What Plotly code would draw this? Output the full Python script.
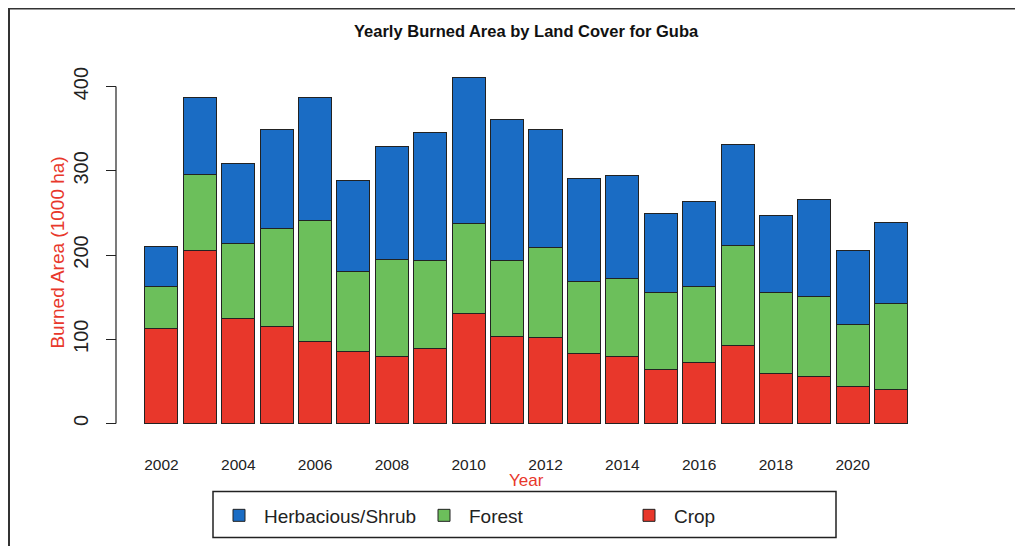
import plotly.graph_objects as go

years = list(range(2002, 2022))
crop = [113, 206, 125, 115, 97, 85, 80, 89, 131, 103, 102, 83, 80, 64, 72, 93, 59, 56, 44, 40]
forest = [50, 90, 89, 116, 144, 95, 115, 105, 106, 91, 107, 86, 92, 92, 91, 118, 96, 95, 74, 102]
shrub = [47, 91, 95, 118, 146, 108, 134, 152, 174, 167, 140, 122, 123, 93, 100, 120, 92, 115, 88, 97]
x_tick_vals = list(range(2002, 2021, 2))
y_tick_vals = [0, 100, 200, 300, 400]

O = 8                     # page offset (body margin)
W, H = 1023 - O, 546 - O
L, R = 116 - O, 918 - O   # paper left/right in px
T, B = 63.4 - O, 437.5 - O
PW, PH = R - L, B - T

def px(x):
    return (x - O - L) / PW

def py(y):
    return (B - (y - O)) / PH

fig = go.Figure()
series = [("Crop", crop, "#e8372b"), ("Forest", forest, "#6cbf5b"), ("Herbacious/Shrub", shrub, "#1a6cc4")]
for name, vals, col in series:
    fig.add_trace(go.Bar(x=years, y=vals, name=name, width=0.86,
                         marker=dict(color=col, line=dict(color="#222222", width=1))))

fig.update_layout(
    width=W, height=H,
    barmode="stack",
    plot_bgcolor="white", paper_bgcolor="white",
    margin=dict(l=L, r=W - R, t=T, b=H - B, pad=0, autoexpand=False),
    font=dict(family="Liberation Sans, Arial, sans-serif", color="#222222"),
    xaxis=dict(domain=[px(134.6), 1], range=[2001.3, 2021.7], tickvals=x_tick_vals,
               showgrid=False, zeroline=False, showline=False, ticks="",
               tickfont=dict(size=15.5), ticklabelstandoff=16),
    yaxis=dict(anchor="free", position=0, range=[-16, 428], tickvals=y_tick_vals,
               showgrid=False, zeroline=False, showline=False, ticks="outside",
               ticklen=10, tickcolor="#222222", tickangle=-90,
               tickfont=dict(size=20), ticklabelstandoff=10),
    showlegend=True,
    legend=dict(orientation="h", traceorder="reversed", x=px(214), y=py(516),
                xanchor="left", yanchor="middle", borderwidth=0, bgcolor="rgba(0,0,0,0)",
                font=dict(size=19), itemwidth=40, entrywidth=150, entrywidthmode="pixels"),
    shapes=[
        dict(type="line", xref="paper", yref="y", x0=0, x1=0, y0=0, y1=400,
             line=dict(color="#222222", width=1.2)),
        dict(type="rect", xref="paper", yref="paper", x0=px(213), x1=px(836), y0=py(492), y1=py(538),
             line=dict(color="#222222", width=1.5)),
        dict(type="rect", xref="paper", yref="paper", x0=px(9), x1=px(1017), y0=py(9), y1=py(570),
             line=dict(color="#333333", width=2)),
    ],
    annotations=[
        dict(text="<b>Yearly Burned Area by Land Cover for Guba</b>", xref="paper", yref="paper",
             x=px(526), y=py(31), showarrow=False, font=dict(size=16.5, color="#111111"),
             xanchor="center", yanchor="middle"),
        dict(text="Year", xref="paper", yref="paper", x=px(526), y=py(481), showarrow=False,
             font=dict(size=17, color="#e8372b"), xanchor="center", yanchor="middle"),
        dict(text="Burned Area (1000 ha)", xref="paper", yref="paper", x=px(58), y=py(253),
             showarrow=False, textangle=-90, font=dict(size=19, color="#e8372b"),
             xanchor="center", yanchor="middle"),
    ],
)

fig.write_html("out.html")
